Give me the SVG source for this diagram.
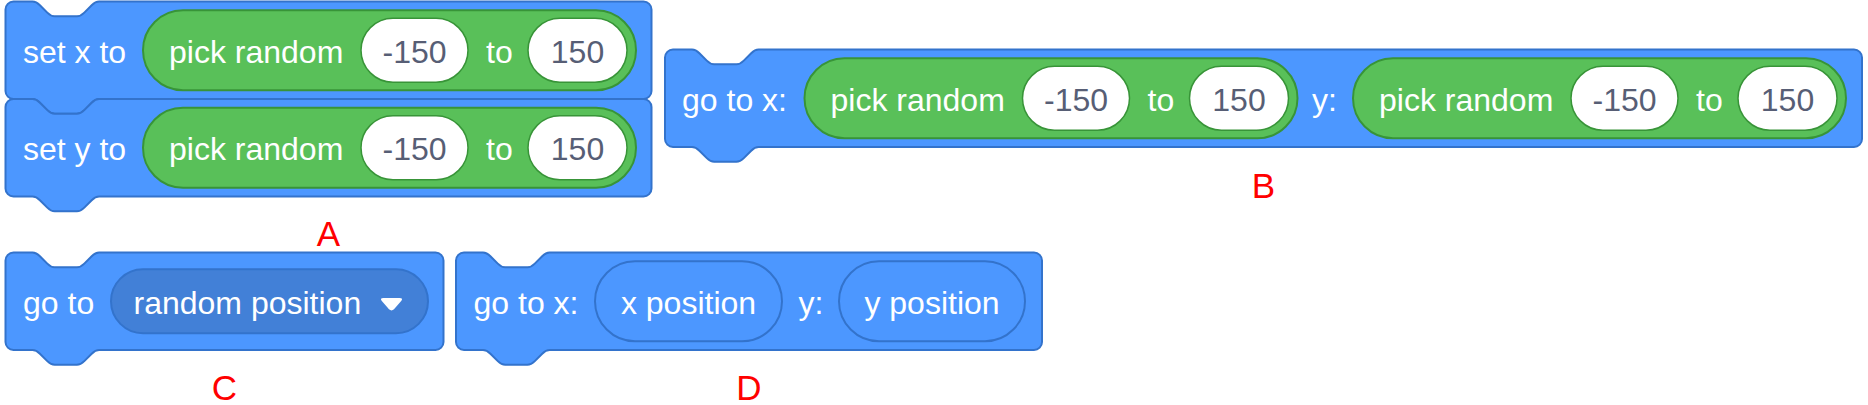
<svg xmlns="http://www.w3.org/2000/svg" width="1868" height="405" viewBox="0 0 1868 405">
<style>
.blk{fill:#4C97FF;stroke:#3373CC;stroke-width:2;}
.grn{fill:#59C059;stroke:#389438;stroke-width:2;}
.inp{fill:#FFFFFF;stroke:#389438;stroke-width:1.5;}
.rep{fill:#4C97FF;stroke:#3373CC;stroke-width:2;}
.dd{fill:#4280D7;stroke:#3373CC;stroke-width:2;}
.t{font-family:"Liberation Sans",Arial,Helvetica,sans-serif;font-size:32px;fill:#FFFFFF;}
.n{font-family:"Liberation Sans",Arial,Helvetica,sans-serif;font-size:32px;fill:#575E75;text-anchor:middle;}
.c{text-anchor:middle;}
.lbl{font-family:"Liberation Sans",Arial,Helvetica,sans-serif;font-size:35px;fill:#FF0000;text-anchor:middle;}
</style>
<g id="connectors"></g>
<g id="blockA">
  <g id="setx">
    <path class="blk" d="M5.5,9.5 a8,8 0 0 1 8,-8 H32.5 c3.7,0 5.55,1.85 7.4,3.7 l7.4,7.4 c1.85,1.85 3.7,3.7 7.4,3.7 h22.2 c3.7,0 5.55,-1.85 7.4,-3.7 l7.4,-7.4 c1.85,-1.85 3.7,-3.7 7.4,-3.7 H643.5 a8,8 0 0 1 8,8 V91 a8,8 0 0 1 -8,8 H99.1 c-3.7,0 -5.55,1.85 -7.4,3.7 l-7.4,7.4 c-1.85,1.85 -3.7,3.7 -7.4,3.7 h-22.2 c-3.7,0 -5.55,-1.85 -7.4,-3.7 l-7.4,-7.4 c-1.85,-1.85 -3.7,-3.7 -7.4,-3.7 H13.5 a8,8 0 0 1 -8,-8 Z"/>
    <text class="t" x="23" y="62.75">set x to</text>
    <rect class="grn" x="143" y="10.25" width="493" height="80" rx="40"/>
    <text class="t" x="169" y="62.75">pick random</text>
    <rect class="inp" x="361" y="18.25" width="107" height="64" rx="32"/>
    <text class="n" x="414.5" y="62.75">-150</text>
    <text class="t" x="486" y="62.75">to</text>
    <rect class="inp" x="528" y="18.25" width="99" height="64" rx="32"/>
    <text class="n" x="577.5" y="62.75">150</text>
  </g>
  <g id="sety">
    <path class="blk" d="M5.5,107 a8,8 0 0 1 8,-8 H32.5 c3.7,0 5.55,1.85 7.4,3.7 l7.4,7.4 c1.85,1.85 3.7,3.7 7.4,3.7 h22.2 c3.7,0 5.55,-1.85 7.4,-3.7 l7.4,-7.4 c1.85,-1.85 3.7,-3.7 7.4,-3.7 H643.5 a8,8 0 0 1 8,8 V188.5 a8,8 0 0 1 -8,8 H99.1 c-3.7,0 -5.55,1.85 -7.4,3.7 l-7.4,7.4 c-1.85,1.85 -3.7,3.7 -7.4,3.7 h-22.2 c-3.7,0 -5.55,-1.85 -7.4,-3.7 l-7.4,-7.4 c-1.85,-1.85 -3.7,-3.7 -7.4,-3.7 H13.5 a8,8 0 0 1 -8,-8 Z"/>
    <text class="t" x="23" y="160.25">set y to</text>
    <rect class="grn" x="143" y="107.75" width="493" height="80" rx="40"/>
    <text class="t" x="169" y="160.25">pick random</text>
    <rect class="inp" x="361" y="115.75" width="107" height="64" rx="32"/>
    <text class="n" x="414.5" y="160.25">-150</text>
    <text class="t" x="486" y="160.25">to</text>
    <rect class="inp" x="528" y="115.75" width="99" height="64" rx="32"/>
    <text class="n" x="577.5" y="160.25">150</text>
  </g>
  <text class="lbl" x="328.5" y="246">A</text>
</g>
<g id="blockB">
  <path class="blk" d="M665,57.5 a8,8 0 0 1 8,-8 H692 c3.7,0 5.55,1.85 7.4,3.7 l7.4,7.4 c1.85,1.85 3.7,3.7 7.4,3.7 h22.2 c3.7,0 5.55,-1.85 7.4,-3.7 l7.4,-7.4 c1.85,-1.85 3.7,-3.7 7.4,-3.7 H1854 a8,8 0 0 1 8,8 V139 a8,8 0 0 1 -8,8 H758.6 c-3.7,0 -5.55,1.85 -7.4,3.7 l-7.4,7.4 c-1.85,1.85 -3.7,3.7 -7.4,3.7 h-22.2 c-3.7,0 -5.55,-1.85 -7.4,-3.7 l-7.4,-7.4 c-1.85,-1.85 -3.7,-3.7 -7.4,-3.7 H673 a8,8 0 0 1 -8,-8 Z"/>
  <text class="t" x="682" y="110.75">go to x:</text>
  <rect class="grn" x="804.5" y="58.25" width="493" height="80" rx="40"/>
  <text class="t" x="830.5" y="110.75">pick random</text>
  <rect class="inp" x="1022.5" y="66.25" width="107" height="64" rx="32"/>
  <text class="n" x="1076" y="110.75">-150</text>
  <text class="t" x="1147.5" y="110.75">to</text>
  <rect class="inp" x="1189.5" y="66.25" width="99" height="64" rx="32"/>
  <text class="n" x="1239" y="110.75">150</text>
  <text class="t" x="1312" y="110.75">y:</text>
  <rect class="grn" x="1353" y="58.25" width="493" height="80" rx="40"/>
  <text class="t" x="1379" y="110.75">pick random</text>
  <rect class="inp" x="1571" y="66.25" width="107" height="64" rx="32"/>
  <text class="n" x="1624.5" y="110.75">-150</text>
  <text class="t" x="1696" y="110.75">to</text>
  <rect class="inp" x="1738" y="66.25" width="99" height="64" rx="32"/>
  <text class="n" x="1787.5" y="110.75">150</text>
  <text class="lbl" x="1263.5" y="198">B</text>
</g>
<g id="blockC">
  <path class="blk" d="M5.5,260.5 a8,8 0 0 1 8,-8 H32.5 c3.7,0 5.55,1.85 7.4,3.7 l7.4,7.4 c1.85,1.85 3.7,3.7 7.4,3.7 h22.2 c3.7,0 5.55,-1.85 7.4,-3.7 l7.4,-7.4 c1.850,-1.85 3.7,-3.7 7.4,-3.7 H435.5 a8,8 0 0 1 8,8 V342 a8,8 0 0 1 -8,8 H99.1 c-3.7,0 -5.55,1.85 -7.4,3.7 l-7.4,7.4 c-1.85,1.85 -3.7,3.7 -7.4,3.7 h-22.2 c-3.7,0 -5.55,-1.85 -7.4,-3.7 l-7.4,-7.4 c-1.85,-1.85 -3.7,-3.7 -7.4,-3.7 H13.5 a8,8 0 0 1 -8,-8 Z"/>
  <text class="t" x="23" y="313.75">go to</text>
  <rect class="dd" x="111" y="269.25" width="317" height="64" rx="32"/>
  <text class="t" x="133.5" y="313.75">random position</text>
  <path fill="#FFFFFF" d="M383.5,298 H399.5 Q403.5,298 401.2,301 L394,309.3 Q391.5,311.5 389,309.3 L381.8,301 Q379.5,298 383.5,298 Z"/>
  <text class="lbl" x="224.5" y="400">C</text>
</g>
<g id="blockD">
  <path class="blk" d="M456,260.5 a8,8 0 0 1 8,-8 H483 c3.7,0 5.55,1.85 7.4,3.7 l7.4,7.4 c1.85,1.85 3.7,3.7 7.4,3.7 h22.2 c3.7,0 5.55,-1.85 7.4,-3.7 l7.4,-7.4 c1.85,-1.85 3.7,-3.7 7.4,-3.7 H1034 a8,8 0 0 1 8,8 V342 a8,8 0 0 1 -8,8 H549.6 c-3.7,0 -5.55,1.85 -7.4,3.7 l-7.4,7.4 c-1.85,1.85 -3.7,3.7 -7.4,3.7 h-22.2 c-3.7,0 -5.55,-1.85 -7.4,-3.7 l-7.4,-7.4 c-1.85,-1.85 -3.7,-3.7 -7.4,-3.7 H464 a8,8 0 0 1 -8,-8 Z"/>
  <text class="t" x="473.5" y="313.75">go to x:</text>
  <rect class="rep" x="595" y="261.25" width="187" height="80" rx="40"/>
  <text class="t c" x="688.5" y="313.75">x position</text>
  <text class="t" x="798.5" y="313.75">y:</text>
  <rect class="rep" x="839" y="261.25" width="186" height="80" rx="40"/>
  <text class="t c" x="932" y="313.75">y position</text>
  <text class="lbl" x="749" y="400">D</text>
</g>
</svg>
